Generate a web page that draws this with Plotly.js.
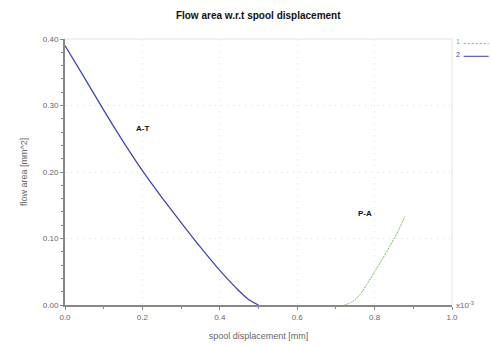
<!DOCTYPE html>
<html><head><meta charset="utf-8">
<script src="https://cdn.plot.ly/plotly-3.0.1.min.js"></script>
<style>html,body{margin:0;padding:0;background:#fff}#c{width:490px;height:347px}</style>
</head><body><div id="c"></div>
<script>
const atX = [0, 0.05, 0.1, 0.15, 0.2, 0.25, 0.3, 0.35, 0.4, 0.45, 0.475, 0.5];
const atY = [0.39, 0.342, 0.293, 0.246, 0.202, 0.162, 0.124, 0.087, 0.052, 0.021, 0.008, 0.0];
const paX = [0.722, 0.74, 0.76, 0.78, 0.80, 0.82, 0.84, 0.86, 0.878];
const paY = [0.0, 0.004, 0.014, 0.031, 0.050, 0.069, 0.089, 0.110, 0.133];
const xTicks = [0, 0.2, 0.4, 0.6, 0.8, 1.0];
const xTickText = ['0.0', '0.2', '0.4', '0.6', '0.8', '1.0'];
const yTicks = [0, 0.1, 0.2, 0.3, 0.4];
const yTickText = ['0.00', '0.10', '0.20', '0.30', '0.40'];

const font = 'Liberation Sans, Arial, sans-serif';
const traces = [
  {x: paX, y: paY, mode: 'lines', line: {color: '#6cc44a', width: 1, dash: '2px,1px', shape: 'spline', smoothing: 0.6}, name: '1', showlegend: false},
  {x: atX, y: atY, mode: 'lines', line: {color: '#3a3fb0', width: 1.2, shape: 'spline', smoothing: 0.6}, name: '2', showlegend: false}
];
const layout = {
  width: 490, height: 347,
  margin: {l: 65, r: 38, t: 39, b: 42},
  paper_bgcolor: '#fff', plot_bgcolor: '#fff',
  font: {family: font, color: '#555'},
  title: {text: 'Flow area w.r.t spool displacement', font: {family: font, size: 10, color: '#111', weight: 'bold'}, x: 0.527, xanchor: 'center', y: 0.955, yanchor: 'middle'},
  xaxis: {range: [0, 1], tickvals: xTicks, ticktext: xTickText, showline: true, linecolor: '#888', linewidth: 2,
    ticks: 'outside', ticklen: 3, tickcolor: '#888', tickfont: {size: 8, color: '#666'},
    minor: {dtick: 0.1, ticks: 'outside', ticklen: 2, tickcolor: '#888', showgrid: false},
    showgrid: true, gridcolor: '#e2e2e2', griddash: '1px,5px', gridwidth: 1, zeroline: false,
    title: {text: 'spool displacement [mm]', font: {size: 9, color: '#666'}, standoff: 12}},
  yaxis: {range: [0, 0.4], tickvals: yTicks, ticktext: yTickText, showline: true, linecolor: '#888', linewidth: 2,
    ticks: 'outside', ticklen: 3, tickcolor: '#888', tickfont: {size: 8, color: '#666'},
    minor: {dtick: 0.02, ticks: 'outside', ticklen: 2, tickcolor: '#888', showgrid: false},
    showgrid: true, gridcolor: '#efcdef', griddash: '1px,5px', gridwidth: 1, zeroline: false,
    title: {text: 'flow area [mm^2]', font: {size: 9, color: '#666'}, standoff: 14}},
  shapes: [
    {type: 'line', xref: 'paper', yref: 'paper', x0: 0, x1: 1, y0: 1, y1: 1, line: {color: '#e2e2e2', width: 1}},
    {type: 'line', xref: 'paper', yref: 'paper', x0: 1, x1: 1, y0: 0, y1: 1, line: {color: '#e2e2e2', width: 1}},
    {type: 'line', xref: 'paper', yref: 'paper', x0: 1.03, x1: 1.095, y0: 0.983, y1: 0.983, line: {color: '#6cc44a', width: 1, dash: '2px,2px'}},
    {type: 'line', xref: 'paper', yref: 'paper', x0: 1.03, x1: 1.095, y0: 0.935, y1: 0.935, line: {color: '#3a3fb0', width: 1}}
  ],
  annotations: [
    {x: 0.2, y: 0.266, text: 'A-T', showarrow: false, font: {size: 8, color: '#111', weight: 'bold'}},
    {x: 0.775, y: 0.137, text: 'P-A', showarrow: false, font: {size: 8, color: '#111', weight: 'bold'}},
    {xref: 'paper', yref: 'paper', x: 1.005, y: 0.0, xanchor: 'left', yanchor: 'middle', text: 'x10<sup>-3</sup>', showarrow: false, font: {size: 8, color: '#666'}},
    {xref: 'paper', yref: 'paper', x: 1.006, y: 0.99, xanchor: 'left', yanchor: 'middle', text: '1', showarrow: false, font: {size: 7, color: '#6cc44a'}},
    {xref: 'paper', yref: 'paper', x: 1.006, y: 0.942, xanchor: 'left', yanchor: 'middle', text: '2', showarrow: false, font: {size: 7, color: '#3a3fb0'}}
  ]
};
Plotly.newPlot('c', traces, layout, {displayModeBar: false, staticPlot: true});
</script></body></html>
